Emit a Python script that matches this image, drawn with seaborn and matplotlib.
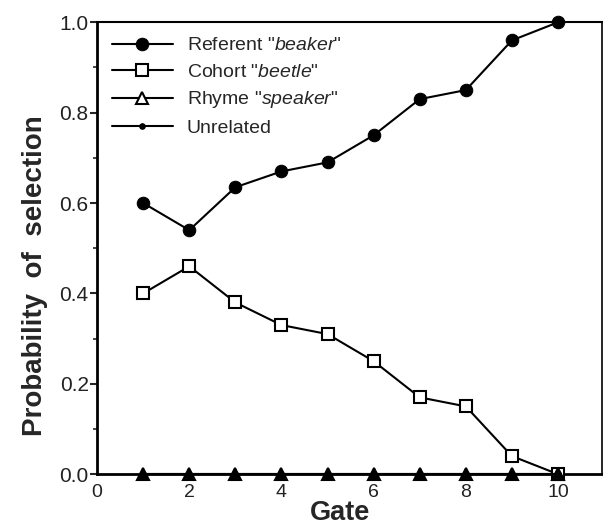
import numpy as np
import pandas as pd
import matplotlib
matplotlib.use("Agg")
import matplotlib.pyplot as plt
import seaborn as sns
from matplotlib.ticker import MultipleLocator, NullLocator

# data
gates = [1, 2, 3, 4, 5, 6, 7, 8, 9, 10]
referent = [0.60, 0.54, 0.635, 0.67, 0.69, 0.75, 0.83, 0.85, 0.96, 1.00]
cohort = [0.40, 0.46, 0.38, 0.33, 0.31, 0.25, 0.17, 0.15, 0.04, 0.00]
rhyme = [0, 0, 0, 0, 0, 0, 0, 0, 0, 0]
unrelated = [0, 0, 0, 0, 0, 0, 0, 0, 0, 0]

labels = [r'Referent "$\mathit{beaker}$"', r'Cohort "$\mathit{beetle}$"',
          r'Rhyme "$\mathit{speaker}$"', 'Unrelated']
yticks = [0.0, 0.2, 0.4, 0.6, 0.8, 1.0]

sns.set_style("ticks")
plt.rcParams['font.family'] = ['Liberation Sans', 'DejaVu Sans']
plt.rcParams['mathtext.fontset'] = 'custom'
plt.rcParams['mathtext.rm'] = 'Liberation Sans'
plt.rcParams['mathtext.it'] = 'Liberation Sans:italic'

fig = plt.figure(figsize=(6.03, 5.31), dpi=100)
ax = fig.add_axes([0.161, 0.107, 0.837, 0.851])

common = dict(color='black', linewidth=1.5, markeredgecolor='black',
              clip_on=False, zorder=3)
sns.lineplot(x=gates, y=referent, marker='o', markersize=9,
             markerfacecolor='black', label=labels[0], ax=ax, **common)
sns.lineplot(x=gates, y=cohort, marker='s', markersize=8, markeredgewidth=1.5,
             markerfacecolor='white', label=labels[1], ax=ax, **common)
sns.lineplot(x=gates, y=rhyme, marker='^', markersize=9, markeredgewidth=1.5,
             markerfacecolor='black', label=labels[2], ax=ax, **common)
sns.lineplot(x=gates, y=unrelated, marker='o', markersize=4,
             markerfacecolor='black', label=labels[3], ax=ax, **common)

ax.set_xlim(0, 10.95)
ax.set_ylim(0, 1.0)
ax.set_xticks([0, 2, 4, 6, 8, 10])
ax.xaxis.set_minor_locator(NullLocator())
ax.set_yticks(yticks)
ax.set_yticklabels([f"{v:.1f}" for v in yticks])
ax.yaxis.set_minor_locator(MultipleLocator(0.1))
ax.tick_params(axis='y', which='major', length=5, width=1.5, labelsize=15,
               labelcolor='#222222', pad=1)
ax.tick_params(axis='y', which='minor', length=3, width=1.2)
ax.tick_params(axis='x', length=0, labelsize=14, labelcolor='#222222', pad=7)

for side in ['left', 'bottom', 'top', 'right']:
    ax.spines[side].set_linewidth(2)
    ax.spines[side].set_color('black')
ax.spines['right'].set_linewidth(1.2)
ax.spines['top'].set_linewidth(1.5)

ax.set_xlabel("Gate", fontsize=19.5, fontweight='bold')
ax.xaxis.set_label_coords(0.481, -0.057)
ax.set_ylabel("Probability  of  selection", fontsize=20, fontweight='bold')
ax.yaxis.set_label_coords(-0.097, 0.44)

leg = ax.legend(loc='upper left', bbox_to_anchor=(0.03, 0.968), frameon=False,
                fontsize=14, handlelength=3.1, handletextpad=0.72,
                labelspacing=0.45, borderpad=0, borderaxespad=0)
leg.legend_handles[2].set_markerfacecolor('white')

plt.savefig("out.png", dpi=100)
plt.close()
